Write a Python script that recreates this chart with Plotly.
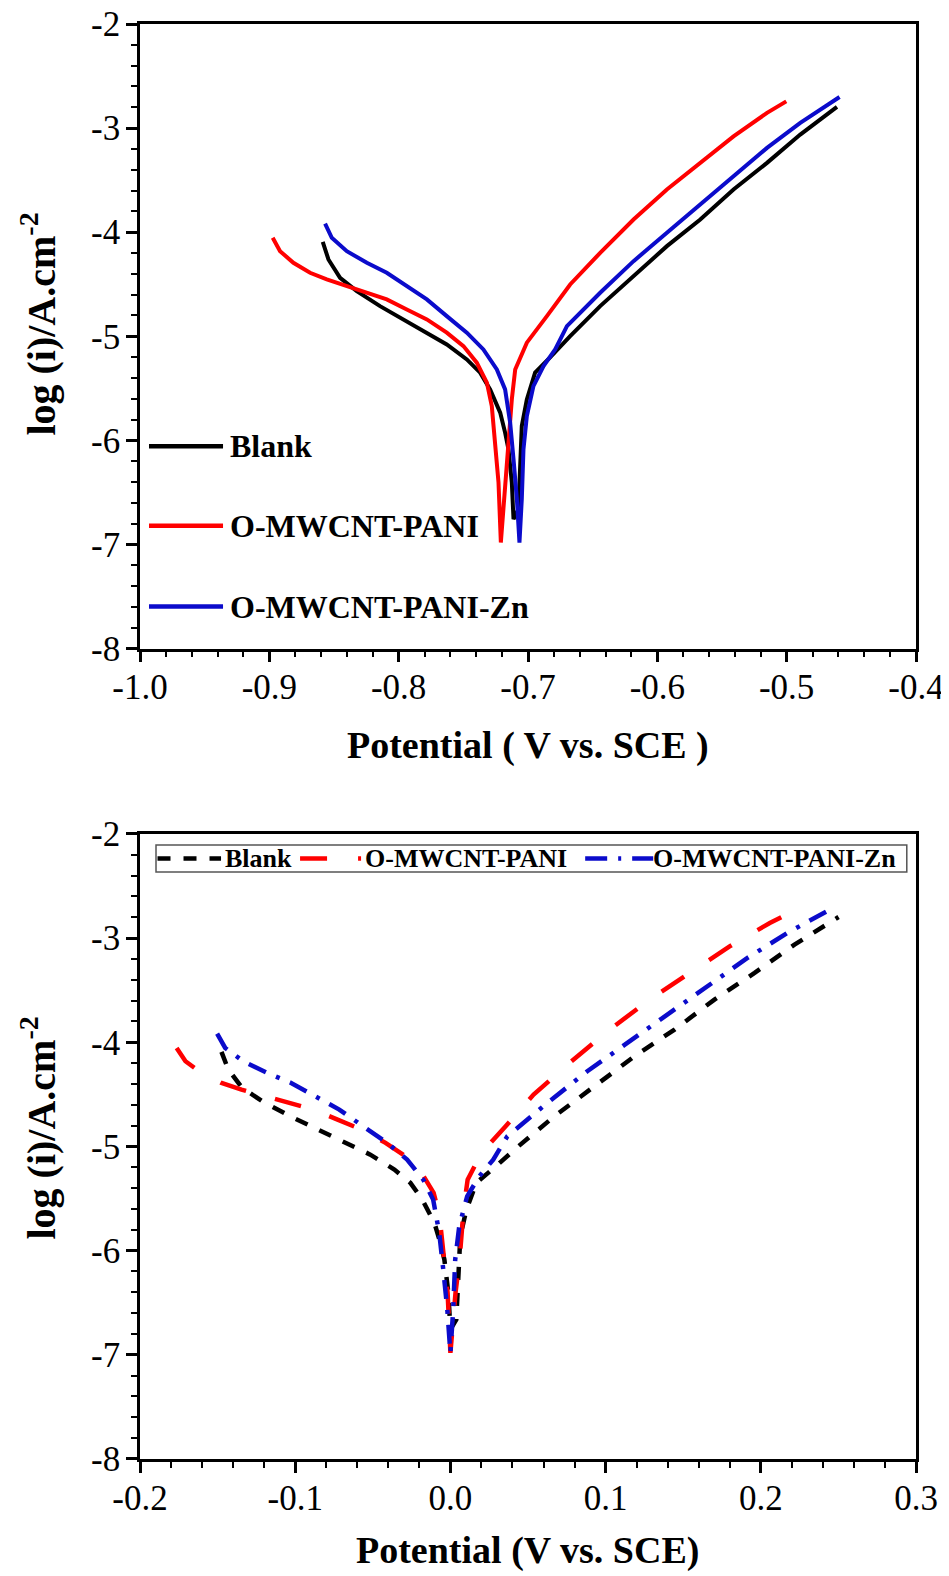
import plotly.graph_objects as go

# ---------------- data ----------------
SERIES = ["Blank", "O-MWCNT-PANI", "O-MWCNT-PANI-Zn"]
COLORS = ["#000000", "#FF0000", "#0B0BCB"]

E_BLANK = [-0.8587, -0.8543, -0.8453, -0.8324, -0.8144, -0.7963, -0.7782, -0.7628, -0.7473,
           -0.7370, -0.7293, -0.7215, -0.7177, -0.7151, -0.7125, -0.7112, -0.7074, -0.7061,
           -0.7048, -0.7009, -0.6945, -0.6829, -0.6674, -0.6442, -0.6184, -0.5926, -0.5668,
           -0.5411, -0.5152, -0.4895, -0.4611]
L_BLANK = [-4.092, -4.262, -4.438, -4.566, -4.710, -4.838, -4.965, -5.078, -5.222,
           -5.349, -5.510, -5.733, -5.925, -6.085, -6.405, -6.757, -6.661, -6.181,
           -5.862, -5.606, -5.349, -5.203, -4.998, -4.710, -4.422, -4.134, -3.878,
           -3.590, -3.334, -3.062, -2.797]

E_PANI = [-0.8974, -0.8917, -0.8814, -0.8685, -0.8556, -0.8401, -0.8246, -0.8092, -0.7937,
          -0.7782, -0.7628, -0.7499, -0.7396, -0.7318, -0.7280, -0.7254, -0.7228, -0.7210,
          -0.7177, -0.7151, -0.7125, -0.7099, -0.7009, -0.6854, -0.6674, -0.6442, -0.6184,
          -0.5926, -0.5668, -0.5411, -0.5152, -0.5003]
L_PANI = [-4.054, -4.182, -4.294, -4.390, -4.454, -4.518, -4.576, -4.646, -4.742,
          -4.838, -4.965, -5.094, -5.253, -5.445, -5.670, -6.018, -6.405, -6.981,
          -6.405, -6.085, -5.605, -5.318, -5.061, -4.806, -4.502, -4.198, -3.878,
          -3.590, -3.334, -3.079, -2.854, -2.743]

E_ZN = [-0.8569, -0.8517, -0.8401, -0.8246, -0.8092, -0.7937, -0.7782, -0.7628, -0.7473,
        -0.7345, -0.7241, -0.7177, -0.7138, -0.7112, -0.7086, -0.7066, -0.7048, -0.7035,
        -0.7009, -0.6958, -0.6880, -0.6790, -0.6699, -0.6442, -0.6184, -0.5926, -0.5668,
        -0.5411, -0.5152, -0.4895, -0.4591]
L_ZN = [-3.917, -4.054, -4.182, -4.294, -4.390, -4.518, -4.646, -4.806, -4.965,
        -5.126, -5.318, -5.510, -5.829, -6.181, -6.565, -6.981, -6.565, -6.085,
        -5.766, -5.478, -5.286, -5.126, -4.902, -4.582, -4.278, -4.006, -3.734,
        -3.463, -3.190, -2.950, -2.701]

# corrosion potentials (tip of each curve); the lower chart is E - Ecorr
ECORR = [-0.7112, -0.7210, -0.7066]

TOP_XTICKS = [-1.0, -0.9, -0.8, -0.7, -0.6, -0.5, -0.4]
TOP_XTEXT = ["-1.0", "-0.9", "-0.8", "-0.7", "-0.6", "-0.5", "-0.4"]
BOT_XTICKS = [-0.2, -0.1, 0.0, 0.1, 0.2, 0.3]
BOT_XTEXT = ["-0.2", "-0.1", "0.0", "0.1", "0.2", "0.3"]
YTICKS = [-8, -7, -6, -5, -4, -3, -2]
YTEXT = ["-8", "-7", "-6", "-5", "-4", "-3", "-2"]

# ---------------- layout helpers (page pixel coords -> paper) ----------------
OFF = 8                      # default body margin of the html page
PAGE_W, PAGE_H = 949, 1576
W, H = PAGE_W - OFF, PAGE_H - OFF
AX_L, AX_R, AX_T, AX_B = 140, 915.7, 24.3, 1459.5   # page coords of plot area
ML, MT = AX_L - OFF, AX_T - OFF
MR, MB = W - (AX_R - OFF), H - (AX_B - OFF)
PW, PH = W - ML - MR, H - MT - MB


def px(x):
    return (x - AX_L) / PW


def py(y):
    return (AX_B - y) / PH


SERIF = "Liberation Serif"
DASHES = ["13px,13px", "27px,30px", "19px,11px,4px,11px"]

fig = go.Figure()
data = [(E_BLANK, L_BLANK), (E_PANI, L_PANI), (E_ZN, L_ZN)]
for i, (e, l) in enumerate(data):
    fig.add_trace(go.Scatter(x=e, y=l, mode="lines", xaxis="x", yaxis="y",
                             line=dict(color=COLORS[i], width=4), showlegend=False,
                             name=SERIES[i]))
for i, (e, l) in enumerate(data):
    fig.add_trace(go.Scatter(x=[v - ECORR[i] for v in e], y=l, mode="lines",
                             xaxis="x2", yaxis="y2",
                             line=dict(color=COLORS[i], width=4.5, dash=DASHES[i]),
                             showlegend=False, name=SERIES[i]))

axis_common = dict(showline=True, linecolor="black", linewidth=2.5, mirror=True,
                   ticks="outside", ticklen=11, tickwidth=2.5, tickcolor="black",
                   showgrid=False, zeroline=False, automargin=False,
                   ticklabeloverflow="allow",
                   tickfont=dict(family=SERIF, size=35, color="black"))


def minor(t0, dt):
    return dict(tickmode="linear", tick0=t0, dtick=dt, ticks="outside",
                ticklen=6, tickwidth=2, tickcolor="black", showgrid=False)


fig.update_layout(
    width=W, height=H,
    margin=dict(l=ML, r=MR, t=MT, b=MB, autoexpand=False),
    paper_bgcolor="white", plot_bgcolor="white",
    showlegend=False,
    xaxis=dict(axis_common, domain=[0, 1], anchor="y", range=[-1.0, -0.4],
               tickmode="array", tickvals=TOP_XTICKS, ticktext=TOP_XTEXT,
               ticklabelstandoff=-5, minor=minor(-1.0, 0.02)),
    yaxis=dict(axis_common, domain=[py(649), 1], anchor="x", range=[-8, -2],
               tickmode="array", tickvals=YTICKS, ticktext=YTEXT,
               ticklabelstandoff=-1, minor=minor(-8, 0.2)),
    xaxis2=dict(axis_common, domain=[0, 1], anchor="y2", range=[-0.2, 0.3],
                tickmode="array", tickvals=BOT_XTICKS, ticktext=BOT_XTEXT,
                ticklabelstandoff=-5, minor=minor(-0.2, 0.02)),
    yaxis2=dict(axis_common, domain=[0, py(834.4)], anchor="x2", range=[-8, -2],
                tickmode="array", tickvals=YTICKS, ticktext=YTEXT,
                ticklabelstandoff=-1, minor=minor(-8, 0.2)),
)

annotations = []
shapes = []
xtitle_font = dict(family=SERIF, size=38, color="black")
ytitle_font = dict(family=SERIF, size=40, color="black")
annotations.append(dict(text="<b>Potential ( V vs. SCE )</b>", xref="paper", yref="paper",
                        x=px(528), y=py(746), xanchor="center", yanchor="middle",
                        showarrow=False, font=xtitle_font))
annotations.append(dict(text="<b>Potential (V vs. SCE)</b>", xref="paper", yref="paper",
                        x=px(527), y=py(1575), xanchor="center", yanchor="bottom",
                        showarrow=False, font=xtitle_font))
for yc in (324, 1128):
    annotations.append(dict(text="<b>log (i)/A.cm<sup>-2</sup></b>", xref="paper",
                            yref="paper", x=px(39), y=py(yc), xanchor="center",
                            yanchor="middle", textangle=-90, showarrow=False,
                            font=ytitle_font))

# top legend (vertical, solid lines)
TOP_LEG_Y = [446.5, 526, 607]
for i in range(3):
    shapes.append(dict(type="line", xref="paper", yref="paper",
                       x0=px(149), x1=px(223), y0=py(TOP_LEG_Y[i]), y1=py(TOP_LEG_Y[i]),
                       line=dict(color=COLORS[i], width=4.5)))
    annotations.append(dict(text="<b>" + SERIES[i] + "</b>", xref="paper", yref="paper",
                            x=px(228), y=py(TOP_LEG_Y[i]), xanchor="left",
                            yanchor="middle", showarrow=False,
                            font=dict(family=SERIF, size=32, color="black")))

# bottom legend (horizontal, boxed)
shapes.append(dict(type="rect", xref="paper", yref="paper",
                   x0=px(156), x1=px(906.5), y0=py(845.5), y1=py(872.5),
                   line=dict(color="#555555", width=1.5), fillcolor="rgba(0,0,0,0)"))
LEG_Y = 859
LEG_SAMPLES = [(157.5, 221, "13px,13px"), (300, 362, "27px,31px,3px,100px"),
               (585, 653, "22px,11px,3px,11px")]
LEG_TEXT_X = [223, 363, 651]
for i in range(3):
    x0, x1, d = LEG_SAMPLES[i]
    shapes.append(dict(type="line", xref="paper", yref="paper",
                       x0=px(x0), x1=px(x1), y0=py(LEG_Y), y1=py(LEG_Y),
                       line=dict(color=COLORS[i], width=4.5, dash=d)))
    annotations.append(dict(text="<b>" + SERIES[i] + "</b>", xref="paper", yref="paper",
                            x=px(LEG_TEXT_X[i]), y=py(LEG_Y), xanchor="left",
                            yanchor="middle", showarrow=False,
                            font=dict(family=SERIF, size=26, color="black")))

fig.update_layout(annotations=annotations, shapes=shapes)
fig.write_html("out.html")
